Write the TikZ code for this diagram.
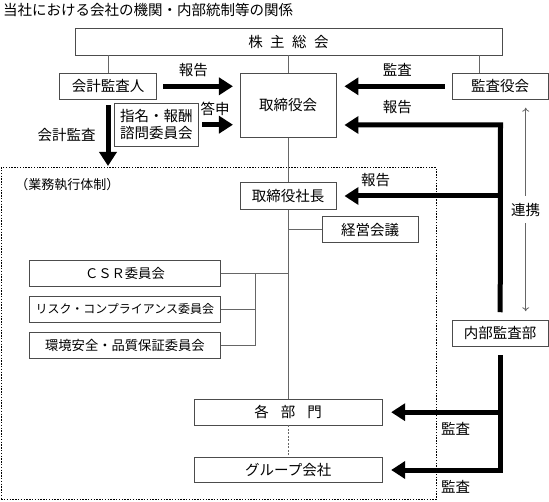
\documentclass[tikz,border=0pt]{standalone}
\usepackage{fontspec}
\setmainfont{Noto Sans CJK JP}
\usetikzlibrary{arrows.meta}
\begin{document}
\begin{tikzpicture}[x=1pt, y=-1pt, >={To[length=4pt,width=7pt]},
  box/.style={draw=black!70, fill=white, line width=.8pt, inner sep=0pt, align=center, font=\fontsize{14.5}{17.5}\selectfont},
  lbl/.style={inner sep=0pt, font=\fontsize{14.5}{17.5}\selectfont},
  thin line/.style={draw=black!60, line width=.8pt},
  fat/.style={line width=5pt, -{Triangle[length=14pt,width=17pt]}, line join=miter}]
\useasboundingbox (0,0) rectangle (549,502);
\node[lbl, anchor=west] (title) at (3,10) {当社における会社の機関・内部統制等の関係};
\node[draw, line width=1.4pt, dash pattern=on 1.4pt off 1.4pt, minimum width=435pt, minimum height=331.6pt, inner sep=0pt] (gyomu) at (218.7,333.5) {};
\node[lbl, font=\fontsize{13}{15}\selectfont] (gyomulbl) at (67.5,185) {（業務執行体制）};

\node[box, minimum width=427pt, minimum height=26.7pt] (soukai) at (288.5,41.7) {株\hspace{7.5pt}主\hspace{7.5pt}総\hspace{7.5pt}会};
\node[box, minimum width=97.4pt, minimum height=26pt] (kaikei) at (108,86.3) {会計監査人};
\node[box, minimum width=96.3pt, minimum height=64pt] (torishimari) at (288.2,105.3) {取締役会};
\node[box, minimum width=95.7pt, minimum height=26pt] (kansayaku) at (500.2,86.3) {監査役会};
\node[box, minimum width=84pt, minimum height=42.7pt] (shimei) at (156.3,124.7) {指名・報酬\\諮問委員会};
\node[box, minimum width=96.3pt, minimum height=26.6pt] (shacho) at (288.2,196) {取締役社長};
\node[box, minimum width=95.7pt, minimum height=26pt] (keiei) at (370.2,229.7) {経営会議};
\node[box, minimum width=191.7pt, minimum height=25.3pt, font=\fontsize{13.3}{15}\selectfont] (csr) at (124.9,273.3) {ＣＳＲ委員会};
\node[box, minimum width=191.7pt, minimum height=25.3pt, font=\fontsize{12}{14}\selectfont] (risk) at (124.9,309.3) {リスク・コンプライアンス委員会};
\node[box, minimum width=191.7pt, minimum height=25.6pt, font=\fontsize{13.3}{15}\selectfont] (kankyo) at (124.9,345.5) {環境安全・品質保証委員会};
\node[box, minimum width=188.3pt, minimum height=25.7pt] (bumon) at (288.2,412.2) {各\hspace{12pt}部\hspace{12pt}門};
\node[box, minimum width=188.3pt, minimum height=25.4pt] (group) at (288.2,470) {グループ会社};
\node[box, minimum width=95.7pt, minimum height=26.7pt] (naibu) at (500.2,333.3) {内部監査部};

\coordinate (k) at ([xshift=-21pt]kansayaku.north);
\draw[thin line] (kaikei.north) -- (kaikei.north |- soukai.south);
\draw[thin line] (torishimari.north) -- (torishimari.north |- soukai.south);
\draw[thin line] (k) -- (k |- soukai.south);
\draw[thin line] (torishimari.south) -- (shacho.north);
\draw[thin line] (shacho.south) -- (bumon.north);
\draw[thin line] (keiei.west) -- (keiei.west -| shacho.south);
\coordinate (joint) at (255,273.3);
\draw[thin line] (csr.east) -- (csr.east -| shacho.south);
\draw[thin line] (risk.east) -- (risk.east -| joint);
\draw[thin line] (kankyo.east) -| (joint);
\draw[thin line, dash pattern=on 2pt off 1.5pt] (bumon.south) -- (group.north);

\draw[fat, shorten <=6pt, shorten >=6.7pt] (kaikei.east) -- (kaikei.east -| torishimari.west);
\draw[fat, shorten <=7.3pt, shorten >=7.7pt] (kansayaku.west) -- (kansayaku.west -| torishimari.east);
\draw[fat, shorten <=3.4pt, shorten >=6.7pt] (shimei.east) -- (shimei.east -| torishimari.west);
\draw[fat, shorten <=5.7pt, shorten >=1pt] (kaikei.south) -- (kaikei.south |- gyomu.north);
\coordinate (turn) at (500.5,125);
\draw[fat, shorten >=7.7pt] ([yshift=7.3pt]naibu.north) -- (turn) -- (turn -| torishimari.east);
\draw[fat, shorten >=7.7pt] (shacho.east -| naibu) -- (shacho.east);
\draw[fat, shorten >=8.4pt] ([yshift=-8.3pt]naibu.south) |- (group.east);
\draw[fat, shorten >=8.4pt] (bumon.east -| naibu) -- (bumon.east);

\coordinate (ra) at ([xshift=25.5pt]kansayaku.south);
\coordinate (rb) at ([xshift=25.5pt]naibu.north);
\draw[<->, thin line, shorten <=8pt, shorten >=8.3pt] (ra) -- node[lbl, fill=white, inner ysep=7pt] (renkei) {連携} (rb);

\node[lbl] (hokoku1) at (193.3,70) {報告};
\node[lbl] (kansa1) at (397.3,70) {監査};
\node[lbl] (toushin) at (215,109.3) {答申};
\node[lbl] (hokoku2) at (397.3,107.3) {報告};
\node[lbl] (kansa0) at (66.7,135) {会計監査};
\node[lbl] (hokoku3) at (375.7,180) {報告};
\node[lbl] (kansa2) at (455.7,429) {監査};
\node[lbl] (kansa3) at (455.7,487.3) {監査};
\end{tikzpicture}
\end{document}
